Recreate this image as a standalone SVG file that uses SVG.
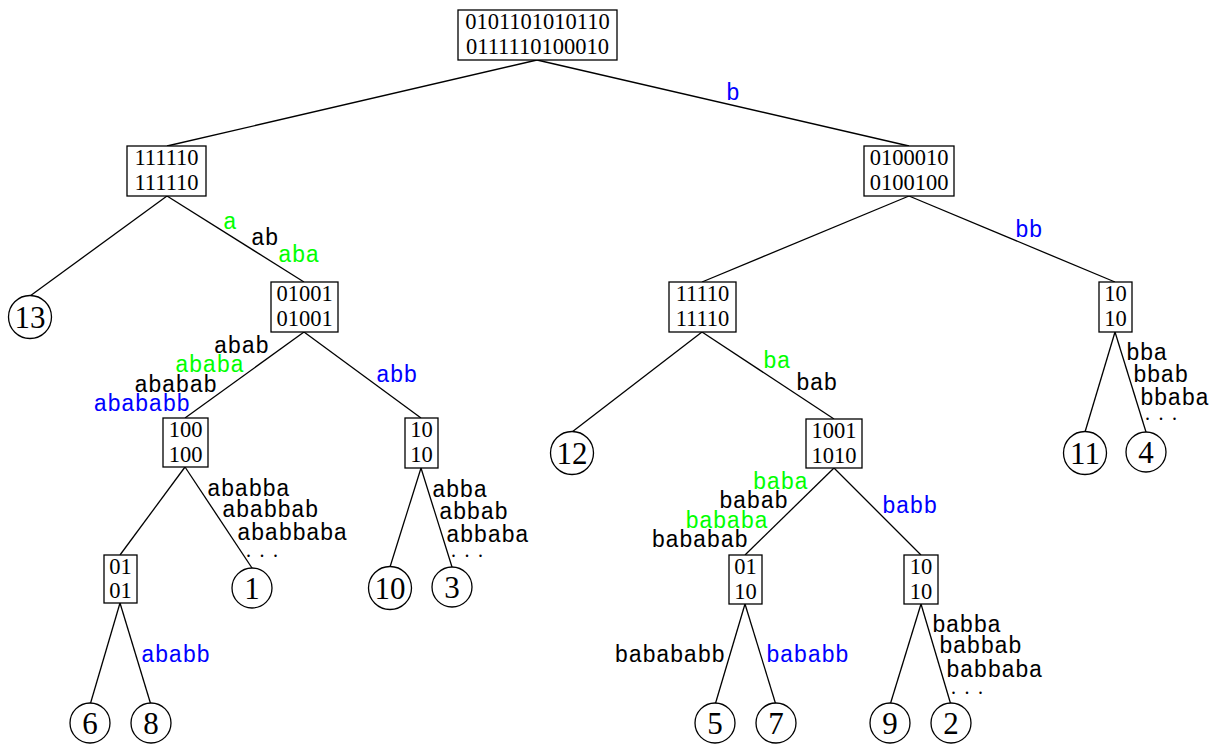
<svg xmlns="http://www.w3.org/2000/svg" width="1218" height="744" viewBox="0 0 1218 744">
  <style>
    .box rect { fill: #fff; stroke: #000; stroke-width: 1.3; }
    .box text { font-family: "Liberation Serif", serif; font-size: 22.5px; text-anchor: middle; fill: #000; }
    .leaf circle { fill: #fff; stroke: #000; stroke-width: 1.3; }
    .leaf text { font-family: "Liberation Serif", serif; font-size: 31px; text-anchor: middle; fill: #000; }
    .edges line { stroke: #000; stroke-width: 1.3; }
    .lbl { font-family: "Liberation Mono", "DejaVu Sans Mono", monospace; font-size: 23px; fill: #000; }
    .dots { font-family: "Liberation Serif", serif; font-size: 20px; letter-spacing: 8.5px; fill: #000; }
    .end { text-anchor: end; }
    .g { fill: #00ff00; }
    .bl { fill: #0000ff; }
  </style>

  <!-- connectors: parent south to child north -->
  <g id="edges" class="edges">
    <line x1="537" y1="60" x2="167" y2="146"/>
    <line x1="537" y1="60" x2="909" y2="146"/>
    <line x1="167" y1="196" x2="30" y2="296"/>
    <line x1="167" y1="196" x2="304" y2="282"/>
    <line x1="304" y1="332" x2="185" y2="418"/>
    <line x1="304" y1="332" x2="421" y2="418"/>
    <line x1="185" y1="467" x2="120" y2="555"/>
    <line x1="185" y1="467" x2="252" y2="568"/>
    <line x1="120" y1="603" x2="90" y2="705"/>
    <line x1="120" y1="603" x2="151" y2="705"/>
    <line x1="421" y1="468" x2="390" y2="567"/>
    <line x1="421" y1="468" x2="452" y2="567"/>
    <line x1="909" y1="196" x2="702" y2="282"/>
    <line x1="909" y1="196" x2="1115" y2="282"/>
    <line x1="702" y1="332" x2="572" y2="432"/>
    <line x1="702" y1="332" x2="834" y2="419"/>
    <line x1="834" y1="468" x2="745" y2="555"/>
    <line x1="834" y1="468" x2="921" y2="555"/>
    <line x1="745" y1="604" x2="715" y2="705"/>
    <line x1="745" y1="604" x2="776" y2="705"/>
    <line x1="921" y1="604" x2="890" y2="705"/>
    <line x1="921" y1="604" x2="951" y2="705"/>
    <line x1="1115" y1="332" x2="1085" y2="432"/>
    <line x1="1115" y1="332" x2="1146" y2="432"/>
  </g>

  <!-- edge labels -->
  <g id="edge-labels">
    <text class="lbl bl" x="726" y="100">b</text>
    <text class="lbl g" x="223" y="229">a</text>
    <text class="lbl" x="251" y="245">ab</text>
    <text class="lbl g" x="278" y="262">aba</text>

    <text class="lbl end" x="269" y="353">abab</text>
    <text class="lbl g end" x="244" y="372">ababa</text>
    <text class="lbl end" x="217" y="392">ababab</text>
    <text class="lbl bl end" x="190" y="411">abababb</text>
    <text class="lbl bl" x="376" y="382">abb</text>

    <text class="lbl" x="207" y="496">ababba</text>
    <text class="lbl" x="222" y="517">ababbab</text>
    <text class="lbl" x="237" y="540">ababbaba</text>
    <text class="dots" x="246" y="557">...</text>

    <text class="lbl" x="432" y="497">abba</text>
    <text class="lbl" x="439" y="519">abbab</text>
    <text class="lbl" x="446" y="542">abbaba</text>
    <text class="dots" x="451" y="557">...</text>

    <text class="lbl bl" x="141" y="662">ababb</text>

    <text class="lbl bl" x="1015" y="237">bb</text>
    <text class="lbl g" x="763" y="368">ba</text>
    <text class="lbl" x="796" y="390">bab</text>

    <text class="lbl g end" x="808" y="489">baba</text>
    <text class="lbl end" x="788" y="508">babab</text>
    <text class="lbl g end" x="768" y="528">bababa</text>
    <text class="lbl end" x="748" y="547">bababab</text>
    <text class="lbl bl" x="882" y="513">babb</text>

    <text class="lbl end" x="725" y="662">babababb</text>
    <text class="lbl bl" x="766" y="662">bababb</text>

    <text class="lbl" x="932" y="632">babba</text>
    <text class="lbl" x="939" y="653">babbab</text>
    <text class="lbl" x="946" y="677">babbaba</text>
    <text class="dots" x="951" y="694">...</text>

    <text class="lbl" x="1126" y="360">bba</text>
    <text class="lbl" x="1133" y="382">bbab</text>
    <text class="lbl" x="1140" y="405">bbaba</text>
    <text class="dots" x="1145" y="420">...</text>
  </g>

  <!-- inner nodes: two-row bit boxes -->
  <g id="n-root" class="box">
    <rect x="458" y="10" width="159" height="50"/>
    <text x="537.5" y="29">0101101010110</text>
    <text x="537.5" y="54">0111110100010</text>
  </g>
  <g id="n-a" class="box">
    <rect x="127" y="146" width="79" height="50"/>
    <text x="166.5" y="165">111110</text>
    <text x="166.5" y="190">111110</text>
  </g>
  <g id="n-b" class="box">
    <rect x="864" y="146" width="90" height="50"/>
    <text x="909" y="165">0100010</text>
    <text x="909" y="190">0100100</text>
  </g>
  <g id="n-ab" class="box">
    <rect x="271" y="282" width="67" height="50"/>
    <text x="304.5" y="301">01001</text>
    <text x="304.5" y="326">01001</text>
  </g>
  <g id="n-ba" class="box">
    <rect x="669" y="282" width="67" height="50"/>
    <text x="702.5" y="301">11110</text>
    <text x="702.5" y="326">11110</text>
  </g>
  <g id="n-bb" class="box">
    <rect x="1099" y="282" width="33" height="50"/>
    <text x="1115.5" y="301">10</text>
    <text x="1115.5" y="326">10</text>
  </g>
  <g id="n-abab" class="box">
    <rect x="163" y="418" width="45" height="49"/>
    <text x="185.5" y="437">100</text>
    <text x="185.5" y="462">100</text>
  </g>
  <g id="n-abb" class="box">
    <rect x="405" y="418" width="33" height="50"/>
    <text x="421.5" y="437">10</text>
    <text x="421.5" y="462">10</text>
  </g>
  <g id="n-bab" class="box">
    <rect x="806" y="419" width="56" height="49"/>
    <text x="834" y="438">1001</text>
    <text x="834" y="463">1010</text>
  </g>
  <g id="n-ababab" class="box">
    <rect x="104" y="555" width="33" height="48"/>
    <text x="120.5" y="574">01</text>
    <text x="120.5" y="598">01</text>
  </g>
  <g id="n-bababab" class="box">
    <rect x="729" y="555" width="33" height="49"/>
    <text x="745.5" y="574">01</text>
    <text x="745.5" y="599">10</text>
  </g>
  <g id="n-babb" class="box">
    <rect x="904" y="555" width="34" height="49"/>
    <text x="921" y="574">10</text>
    <text x="921" y="599">10</text>
  </g>

  <!-- leaves: suffix positions -->
  <g id="leaf-13" class="leaf"><circle cx="30" cy="317" r="21.5"/><text x="30" y="327.5">13</text></g>
  <g id="leaf-12" class="leaf"><circle cx="572" cy="453" r="21.5"/><text x="572" y="463.5">12</text></g>
  <g id="leaf-11" class="leaf"><circle cx="1085" cy="453" r="21.5"/><text x="1085" y="463.5">11</text></g>
  <g id="leaf-4" class="leaf"><circle cx="1146" cy="452" r="20"/><text x="1146" y="462.5">4</text></g>
  <g id="leaf-1" class="leaf"><circle cx="252" cy="588" r="20"/><text x="252" y="598.5">1</text></g>
  <g id="leaf-10" class="leaf"><circle cx="390" cy="588" r="21.5"/><text x="390" y="598.5">10</text></g>
  <g id="leaf-3" class="leaf"><circle cx="452" cy="587" r="20"/><text x="452" y="597.5">3</text></g>
  <g id="leaf-6" class="leaf"><circle cx="90" cy="723" r="20"/><text x="90" y="733.5">6</text></g>
  <g id="leaf-8" class="leaf"><circle cx="151" cy="723" r="20"/><text x="151" y="733.5">8</text></g>
  <g id="leaf-5" class="leaf"><circle cx="715" cy="723" r="20"/><text x="715" y="733.5">5</text></g>
  <g id="leaf-7" class="leaf"><circle cx="776" cy="723" r="20"/><text x="776" y="733.5">7</text></g>
  <g id="leaf-9" class="leaf"><circle cx="890" cy="723" r="20"/><text x="890" y="733.5">9</text></g>
  <g id="leaf-2" class="leaf"><circle cx="951" cy="723" r="20"/><text x="951" y="733.5">2</text></g>
</svg>
